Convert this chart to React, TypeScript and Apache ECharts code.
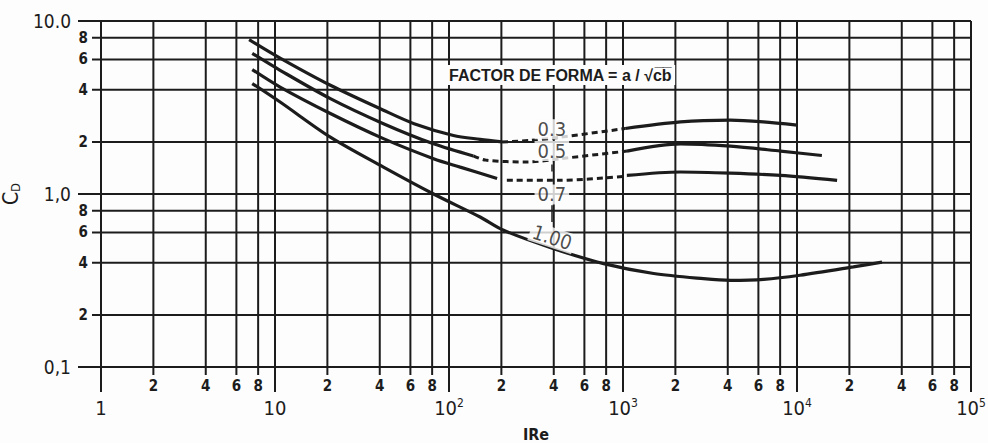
import React, { useEffect, useRef } from "react";
import * as echarts from "echarts";

// ---- axes ----
const X_MIN = 1;
const X_MAX = 100000;
const Y_MIN = 0.1;
const Y_MAX = 10;
const xDecades = [1, 10, 100, 1000, 10000];
const yDecades = [0.1, 1];
const minorDigits = [2, 4, 6, 8];
const minorTickLabels = ["2", "4", "6", "8"];
const xMajorBase = ["1", "10", "10", "10", "10", "10"];
const xMajorExp = ["", "", "2", "3", "4", "5"];
const yMajorTickLabels = ["0,1", "1,0", "10.0"];

// ---- curves (Re, C_D) ----
const ff03Left: [number, number][] = [[7.1, 7.8], [10.7, 6.1], [20.8, 4.25], [42, 3.05], [63, 2.55], [106, 2.18], [151, 2.07], [202, 2.0]];
const ff03Mid: [number, number][] = [[202, 2.0], [294, 2.04], [437, 2.13], [1030, 2.39]];
const ff03Right: [number, number][] = [[1030, 2.39], [2140, 2.61], [4140, 2.67], [6400, 2.61], [10000, 2.5]];

const ff05Left: [number, number][] = [[7.4, 6.5], [10.7, 5.19], [20.8, 3.56], [42, 2.55], [81.5, 1.95], [138, 1.66]];
const ff05Mid: [number, number][] = [[138, 1.66], [162, 1.57], [281, 1.53], [437, 1.6], [1054, 1.77]];
const ff05Right: [number, number][] = [[1054, 1.77], [2140, 1.95], [4140, 1.89], [8040, 1.77], [13900, 1.67]];

const ff07Left: [number, number][] = [[7.4, 5.24], [10.7, 4.15], [20.8, 2.92], [42, 2.09], [81.5, 1.6], [116, 1.43], [189, 1.23]];
const ff07Mid: [number, number][] = [[215, 1.2], [437, 1.2], [1054, 1.27]];
const ff07Right: [number, number][] = [[1054, 1.28], [2140, 1.34], [4140, 1.32], [8040, 1.28], [17000, 1.2]];

const ff100: [number, number][] = [[7.4, 4.35], [10.7, 3.4], [20.8, 2.13], [42, 1.43], [81.5, 1.0], [151, 0.736], [206, 0.617], [400, 0.483], [774, 0.396], [1500, 0.347], [2900, 0.324], [4140, 0.317], [6430, 0.321], [10400, 0.339], [21100, 0.379], [30800, 0.404]];

// ---- curve labels ----
const curveLabels = ["0.3", "0.5", "0.7", "1.00"];
const curveLabelRe = [390, 390, 390, 392];
const curveLabelCd = [2.37, 1.77, 0.995, 0.56];
const curveLabelRotate = [0, 0, 0, -18];
const leaderRe = 392;
const leaderCd: [number, number][] = [[1.48, 1.35], [0.86, 0.69]];

const INK = "#1c1c1c";
const BG = "#fdfdfd";
const FONT = "'Liberation Sans Narrow', 'DejaVu Sans Condensed', 'Liberation Sans', sans-serif";

const xMinorValues: number[] = [];
const xMinorText: string[] = [];
xDecades.forEach((d) => minorDigits.forEach((m, i) => { xMinorValues.push(d * m); xMinorText.push(minorTickLabels[i]); }));
const yMinorValues: number[] = [];
const yMinorText: string[] = [];
yDecades.forEach((d) => minorDigits.forEach((m, i) => { yMinorValues.push(d * m); yMinorText.push(minorTickLabels[i]); }));

const solid = (data: [number, number][]) => ({
  type: "line", data, smooth: 0.3, showSymbol: false, symbol: "none",
  lineStyle: { color: INK, width: 3.2 }, silent: true, z: 3,
});
const dashed = (data: [number, number][]) => ({
  type: "line", data, smooth: 0.3, showSymbol: false, symbol: "none",
  lineStyle: { color: INK, width: 3, type: [6, 4] }, silent: true, z: 3,
});

export default function App() {
  const ref = useRef<HTMLDivElement>(null);
  useEffect(() => {
    if (!ref.current) return;
    const chart = echarts.init(ref.current, null, { renderer: "svg" });
    const option: any = {
      animation: false,
      backgroundColor: BG,
      grid: { left: 101, right: 17, top: 21, bottom: 76, containLabel: false, outerBoundsMode: "none" },
      xAxis: {
        type: "log", logBase: 10, min: X_MIN, max: X_MAX,
        name: "IRe", nameLocation: "middle", nameGap: 59,
        nameTextStyle: { color: INK, fontFamily: FONT, fontSize: 16, fontWeight: "bold" },
        axisLine: { show: true, lineStyle: { color: INK, width: 2 } },
        axisTick: { show: true, length: 25, lineStyle: { color: INK, width: 2 } },
        splitLine: { show: true, lineStyle: { color: INK, width: 2 } },
        axisLabel: {
          margin: 30, color: INK,
          formatter: (v: number) => {
            const k = Math.round(Math.log10(v));
            return xMajorExp[k] ? `{b|${xMajorBase[k]}}{s|${xMajorExp[k]}}` : `{b|${xMajorBase[k]}}`;
          },
          rich: {
            b: { fontFamily: FONT, fontSize: 20, lineHeight: 22, color: INK },
            s: { fontFamily: FONT, fontSize: 12, lineHeight: 12, verticalAlign: "top", color: INK },
          },
        },
      },
      yAxis: {
        type: "log", logBase: 10, min: Y_MIN, max: Y_MAX,
        name: "C{s|D}", nameLocation: "middle", nameGap: 67, nameRotate: 90,
        nameTextStyle: {
          color: INK,
          rich: {
            s: { fontFamily: FONT, fontSize: 13, lineHeight: 22, verticalAlign: "bottom", color: INK },
          },
          fontFamily: FONT, fontSize: 21, lineHeight: 22,
        },
        axisLine: { show: true, lineStyle: { color: INK, width: 2 } },
        axisTick: { show: true, length: 23, lineStyle: { color: INK, width: 2 } },
        splitLine: { show: true, lineStyle: { color: INK, width: 2 } },
        axisLabel: {
          margin: 30, color: INK, fontFamily: FONT, fontSize: 19,
          formatter: (v: number) => yMajorTickLabels[Math.round(Math.log10(v)) + 1],
        },
      },
      series: [
        {
          type: "custom", coordinateSystem: "cartesian2d", silent: true, clip: false, z: 1,
          data: xMinorValues.map((v) => [v, Y_MIN]),
          renderItem: (params: any, api: any) => {
            const v = api.value(0);
            const b = api.coord([v, Y_MIN]);
            const t = api.coord([v, Y_MAX]);
            return {
              type: "group",
              children: [
                { type: "line", shape: { x1: b[0], y1: b[1] + 8, x2: t[0], y2: t[1] }, style: { stroke: INK, lineWidth: 2 } },
                { type: "text", x: b[0], y: b[1] + 11, style: { text: xMinorText[params.dataIndex], fill: INK, fontFamily: FONT, fontSize: 15, fontWeight: "bold", align: "center", verticalAlign: "top" } },
              ],
            };
          },
        },
        {
          type: "custom", coordinateSystem: "cartesian2d", silent: true, clip: false, z: 1,
          data: yMinorValues.map((v) => [X_MIN, v]),
          renderItem: (params: any, api: any) => {
            const v = api.value(1);
            const l = api.coord([X_MIN, v]);
            const r = api.coord([X_MAX, v]);
            return {
              type: "group",
              children: [
                { type: "line", shape: { x1: l[0] - 9, y1: l[1], x2: r[0], y2: r[1] }, style: { stroke: INK, lineWidth: 2 } },
                { type: "text", x: l[0] - 13, y: l[1], style: { text: yMinorText[params.dataIndex], fill: INK, fontFamily: FONT, fontSize: 15, fontWeight: "bold", align: "right", verticalAlign: "middle" } },
              ],
            };
          },
        },
        solid(ff03Left), dashed(ff03Mid), solid(ff03Right),
        solid(ff05Left), dashed(ff05Mid), solid(ff05Right),
        solid(ff07Left), dashed(ff07Mid), solid(ff07Right),
        solid(ff100),
        {
          type: "scatter", silent: true, z: 5, symbolSize: 0,
          data: curveLabels.map((name, i) => ({
            name, value: [curveLabelRe[i], curveLabelCd[i]],
            label: { rotate: curveLabelRotate[i] },
          })),
          label: {
            show: true, position: "inside", formatter: "{b}", color: INK,
            fontFamily: FONT, fontSize: 20, backgroundColor: BG, padding: [0, 3],
          },
          markLine: {
            silent: true, symbol: "none",
            label: { show: false },
            lineStyle: { color: INK, width: 1.5, type: "solid" },
            data: leaderCd.map(([a, b]) => [{ coord: [leaderRe, a] }, { coord: [leaderRe, b] }]),
          },
        },
      ],
      graphic: [
        {
          type: "text", left: 446, top: 65, z: 10,
          style: {
            text: "FACTOR DE FORMA = a / √c̅b̅",
            fill: INK, fontFamily: "'Liberation Sans', 'DejaVu Sans', sans-serif",
            fontSize: 16, fontWeight: "bold", backgroundColor: BG, padding: [2, 3],
          },
        },
      ],
    };
    chart.setOption(option);
    return () => chart.dispose();
  }, []);
  return <div ref={ref} style={{ position: "absolute", left: 0, top: 0, width: 988, height: 443 }} />;
}
